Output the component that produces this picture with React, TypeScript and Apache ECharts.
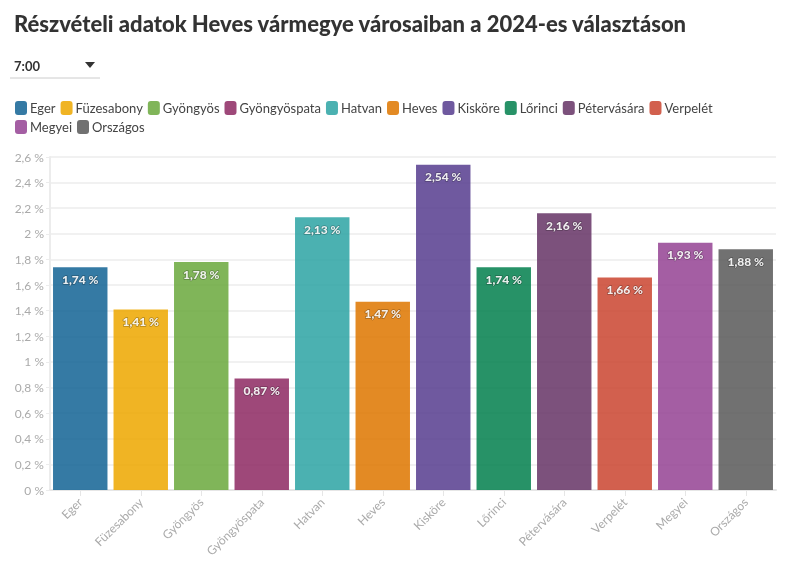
import React, { useEffect, useRef } from "react";
import * as echarts from "echarts";

const categories = ["Eger", "Füzesabony", "Gyöngyös", "Gyöngyöspata", "Hatvan", "Heves", "Kisköre", "Lőrinci", "Pétervására", "Verpelét", "Megyei", "Országos"];
const values = [1.74, 1.41, 1.78, 0.87, 2.13, 1.47, 2.54, 1.74, 2.16, 1.66, 1.93, 1.88];
const colors = ["#1f6b9a", "#eeac0c", "#72ad47", "#93346a", "#37a8a8", "#e07d0c", "#5f4795", "#108656", "#6e3e6e", "#cd4f3b", "#9a4d99", "#626262"];
const yTicks = { min: 0, max: 2.6, interval: 0.2 };

const fmt = (v: number) => {
  const s = Math.abs(v - Math.round(v)) < 1e-9 ? String(Math.round(v)) : String(Math.round(v * 100) / 100);
  return s.replace(".", ",") + " %";
};

export default function App() {
  const ref = useRef<HTMLDivElement>(null);
  useEffect(() => {
    if (!ref.current) return;
    const chart = echarts.init(ref.current, undefined, { renderer: "svg" });
    const font = "Lato, 'Open Sans', sans-serif";
    const series = categories.map((name, i) => ({
      name,
      type: "bar" as const,
      stack: "all",
      barWidth: "90%",
      data: categories.map((_, j) => (j === i ? values[i] : "-")),
      itemStyle: { color: colors[i], opacity: 0.9 },
      label: {
        show: true,
        position: "insideTop" as const,
        distance: 6,
        color: "#fff",
        fontWeight: 900,
        fontSize: 12,
        fontFamily: font,
        textBorderColor: "rgba(0,0,0,0.3)",
        textBorderWidth: 1.5,
        formatter: (p: any) => fmt(p.value),
      },
    }));
    chart.setOption({
      animation: false,
      textStyle: { fontFamily: font },
      title: {
        text: "Részvételi adatok Heves vármegye városaiban a 2024-es választáson",
        left: 9,
        top: 7,
        textStyle: { fontSize: 22, fontWeight: 900, color: "#333", fontFamily: font },
      },
      legend: {
        left: 10,
        width: 740,
        top: 96,
        icon: "roundRect",
        itemWidth: 12,
        itemHeight: 14,
        itemGap: 5,
        textStyle: { fontSize: 13, color: "#444", padding: [0, 0, 0, -2] },
        selectedMode: false,
      },
      grid: { left: 50, right: 20, top: 157, bottom: 85 },
      xAxis: {
        type: "category",
        data: categories,
        axisLine: { lineStyle: { color: "#e6e6e6", width: 2 } },
        axisTick: { show: true, alignWithLabel: true, lineStyle: { color: "#e6e6e6" }, length: 6 },
        axisLabel: { rotate: 45, color: "#aaa", fontSize: 12, margin: 10, interval: 0 },
      },
      yAxis: {
        type: "value",
        min: yTicks.min,
        max: yTicks.max,
        interval: yTicks.interval,
        axisLine: { show: true, lineStyle: { color: "#ececec", width: 2 } },
        axisTick: { show: true, length: 4, lineStyle: { color: "#ececec" } },
        splitLine: { lineStyle: { color: "#ececec", width: 1.5 } },
        axisLabel: { color: "#aaa", fontSize: 12, margin: 6, formatter: (v: number) => fmt(v) },
      },
      graphic: [
        { type: "text", left: 14, top: 59, style: { text: "7:00", fontSize: 13, fontWeight: "bold", fill: "#333", fontFamily: font } },
        { type: "polygon", shape: { points: [[85, 62], [95, 62], [90, 68]] }, style: { fill: "#333" } },
        { type: "line", shape: { x1: 10, y1: 78, x2: 100, y2: 78 }, style: { stroke: "#ccc", lineWidth: 1 } },
      ],
      series,
    });
    return () => chart.dispose();
  }, []);
  return <div ref={ref} style={{ position: "fixed", left: 0, top: 0, width: 796, height: 575 }} />;
}
